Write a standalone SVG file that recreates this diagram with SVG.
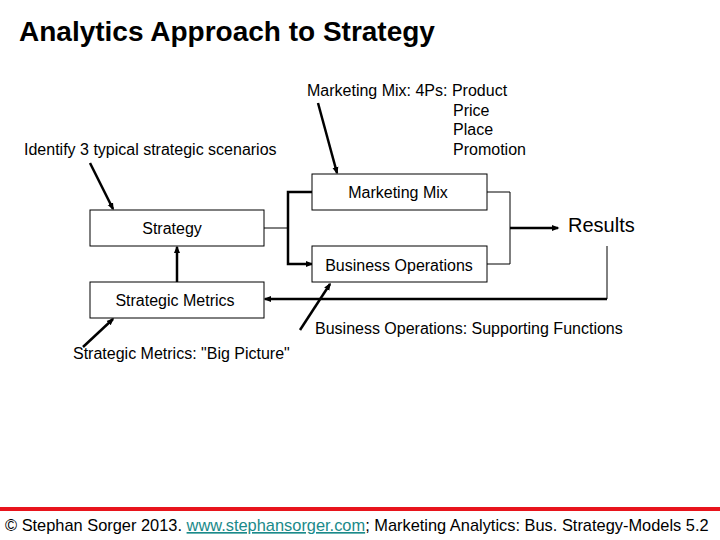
<svg xmlns="http://www.w3.org/2000/svg" width="720" height="540" viewBox="0 0 720 540">
<style>
text{font-family:"Liberation Sans",Arial,sans-serif;fill:#000}
.lbl{font-size:16px}
.box{fill:#fff;stroke:#000;stroke-width:1}
.thin{fill:none;stroke:#000;stroke-width:1}
.thick{fill:none;stroke:#000;stroke-width:2.5}
.call{fill:none;stroke:#000;stroke-width:2.5}
</style>
<defs>
<marker id="dot" viewBox="0 0 10 10" refX="8" refY="5" markerWidth="3" markerHeight="3" orient="auto">
<path d="M0,1 L10,5 L0,9 z" fill="#000"/>
</marker>
</defs>
<rect width="720" height="540" fill="#fff"/>
<text x="19" y="41" font-size="28" font-weight="bold">Analytics Approach to Strategy</text>

<g id="connectors">
<polyline class="thin" points="264,228 288,228"/>
<polyline class="thick" points="312,192 288,192 288,264 312,264" marker-start="url(#dot)" marker-end="url(#dot)"/>
<polyline class="thin" points="487,192 510,192 510,264 487,264"/>
<line class="thick" x1="510" y1="228" x2="558" y2="228" marker-end="url(#dot)"/>
<polyline class="thin" points="607,246 607,299"/>
<line class="thick" x1="607" y1="299" x2="265" y2="299" marker-end="url(#dot)"/>
<line class="thick" x1="177" y1="282" x2="177" y2="247" marker-end="url(#dot)"/>
<line class="call" x1="90" y1="163" x2="113" y2="209" marker-end="url(#dot)"/>
<line class="call" x1="318" y1="103" x2="337" y2="173" marker-end="url(#dot)"/>
<line class="call" x1="300" y1="330" x2="330" y2="284" marker-end="url(#dot)"/>
<line class="call" x1="83" y1="347" x2="113" y2="319" marker-end="url(#dot)"/>
</g>

<g id="strategy">
<rect class="box" x="90" y="210" width="174" height="36"/>
<text class="lbl" x="172" y="234" text-anchor="middle">Strategy</text>
</g>
<g id="strategic-metrics">
<rect class="box" x="90" y="282" width="174" height="36"/>
<text class="lbl" x="175" y="306" text-anchor="middle">Strategic Metrics</text>
</g>
<g id="marketing-mix">
<rect class="box" x="312" y="174" width="175" height="36"/>
<text class="lbl" x="398" y="198" text-anchor="middle">Marketing Mix</text>
</g>
<g id="business-operations">
<rect class="box" x="312" y="246" width="175" height="36"/>
<text class="lbl" x="399" y="271" text-anchor="middle">Business Operations</text>
</g>
<g id="results">
<text x="568" y="232" font-size="20">Results</text>
</g>

<g id="notes">
<text class="lbl" x="24" y="155">Identify 3 typical strategic scenarios</text>
<text class="lbl" x="307" y="96">Marketing Mix: 4Ps: Product</text>
<text class="lbl" x="453" y="116">Price</text>
<text class="lbl" x="453" y="135">Place</text>
<text class="lbl" x="453" y="155">Promotion</text>
<text class="lbl" x="315" y="334">Business Operations: Supporting Functions</text>
<text class="lbl" x="73" y="359">Strategic Metrics: "Big Picture"</text>
</g>

<g id="footer">
<rect x="0" y="507" width="720" height="4" fill="#e8141c"/>
<text x="5" y="531" font-size="16.4">© Stephan Sorger 2013. <tspan fill="#1a8a8a" text-decoration="underline">www.stephansorger.com</tspan>; Marketing Analytics: Bus. Strategy-Models 5.2</text>
</g>
</svg>
